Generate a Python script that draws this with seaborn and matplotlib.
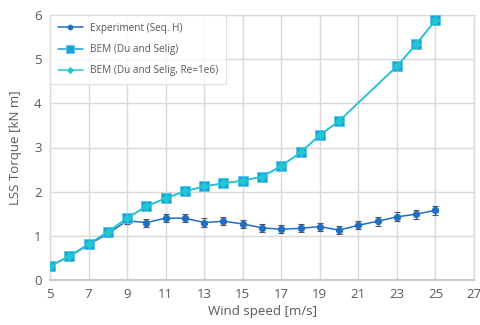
import matplotlib
matplotlib.use("Agg")
import matplotlib.pyplot as plt
import seaborn as sns
import pandas as pd
import numpy as np

# Data
exp_ws = [5, 6, 7, 8, 9, 10, 11, 12, 13, 14, 15, 16, 17, 18, 19, 20, 21, 22, 23, 24, 25]
exp_tq = [0.32, 0.53, 0.80, 1.05, 1.34, 1.30, 1.40, 1.40, 1.30, 1.33, 1.27, 1.18, 1.15, 1.17, 1.21, 1.13, 1.24, 1.33, 1.43, 1.49, 1.58]
exp_err = [0.05, 0.05, 0.06, 0.08, 0.08, 0.09, 0.09, 0.09, 0.10, 0.09, 0.09, 0.09, 0.09, 0.09, 0.09, 0.09, 0.09, 0.10, 0.10, 0.10, 0.10]

bem_ws = [5, 6, 7, 8, 9, 10, 11, 12, 13, 14, 15, 16, 17, 18, 19, 20, 23, 24, 25]
bem_tq = [0.31, 0.54, 0.81, 1.09, 1.40, 1.67, 1.85, 2.01, 2.12, 2.19, 2.25, 2.34, 2.58, 2.89, 3.28, 3.60, 4.84, 5.34, 5.88]
bem_re_tq = [0.31, 0.54, 0.81, 1.09, 1.40, 1.67, 1.85, 2.01, 2.12, 2.19, 2.25, 2.34, 2.58, 2.89, 3.28, 3.60, 4.84, 5.34, 5.88]

xticks = [5, 7, 9, 11, 13, 15, 17, 19, 21, 23, 25, 27]
yticks = [0, 1, 2, 3, 4, 5, 6]

sns.set_theme(style="white")
plt.rcParams['font.family'] = ['Open Sans', 'DejaVu Sans']

fig = plt.figure(figsize=(4.81, 3.25), dpi=100)
ax = fig.add_axes([50/481, 1-280/325, 424/481, 265/325])

c_exp = "#1f6fc5"
c_bem = "#17a2dc"
c_re = "#22c7d2"

df_exp = pd.DataFrame({"ws": exp_ws, "tq": exp_tq})
df_bem = pd.DataFrame({"ws": bem_ws, "tq": bem_tq})
df_re = pd.DataFrame({"ws": bem_ws, "tq": bem_re_tq})

ax.errorbar(exp_ws, exp_tq, yerr=exp_err, fmt="none", ecolor="#555555",
            elinewidth=0.8, capsize=2, capthick=0.8, zorder=3)
sns.lineplot(data=df_exp, x="ws", y="tq", ax=ax, color=c_exp, marker="o",
             markersize=4.5, markeredgecolor=c_exp, linewidth=1.1,
             label="Experiment (Seq. H)", zorder=4)
sns.lineplot(data=df_bem, x="ws", y="tq", ax=ax, color=c_bem, marker="s",
             markersize=7, markeredgecolor="#5cc3ea", markeredgewidth=0.6, linewidth=1.1,
             label="BEM (Du and Selig)", zorder=5)
sns.lineplot(data=df_re, x="ws", y="tq", ax=ax, color=c_re, marker="D",
             markersize=4, markeredgecolor=c_re, linewidth=1.1,
             label="BEM (Du and Selig, Re=1e6)", zorder=6)

ax.set_xlim(5, 27)
ax.set_ylim(0, 6)
ax.set_xticks(xticks)
ax.set_yticks(yticks)
ax.grid(True, color="#d9d9d9", linewidth=1.0)
ax.set_axisbelow(True)
for s in ["top", "right", "left"]:
    ax.spines[s].set_color("#d9d9d9")
    ax.spines[s].set_linewidth(1.0)
ax.spines["bottom"].set_color("#bfbfbf")
ax.spines["bottom"].set_linewidth(1.2)
ax.tick_params(axis="both", length=0, labelsize=9.5, labelcolor="#595959", pad=6)
ax.set_xlabel("Wind speed [m/s]", fontsize=9.5, color="#595959", labelpad=3)
ax.set_ylabel("LSS Torque [kN m]", fontsize=9.5, color="#595959", labelpad=9)

leg = ax.legend(loc="upper left", fontsize=7.2, frameon=True, fancybox=False,
                edgecolor="#d9d9d9", borderaxespad=0, handlelength=2.5,
                labelspacing=1.05, borderpad=0.75, markerscale=0.75)
leg.get_frame().set_linewidth(0.8)
for t in leg.get_texts():
    t.set_color("#595959")

fig.savefig("out.png", dpi=100)
